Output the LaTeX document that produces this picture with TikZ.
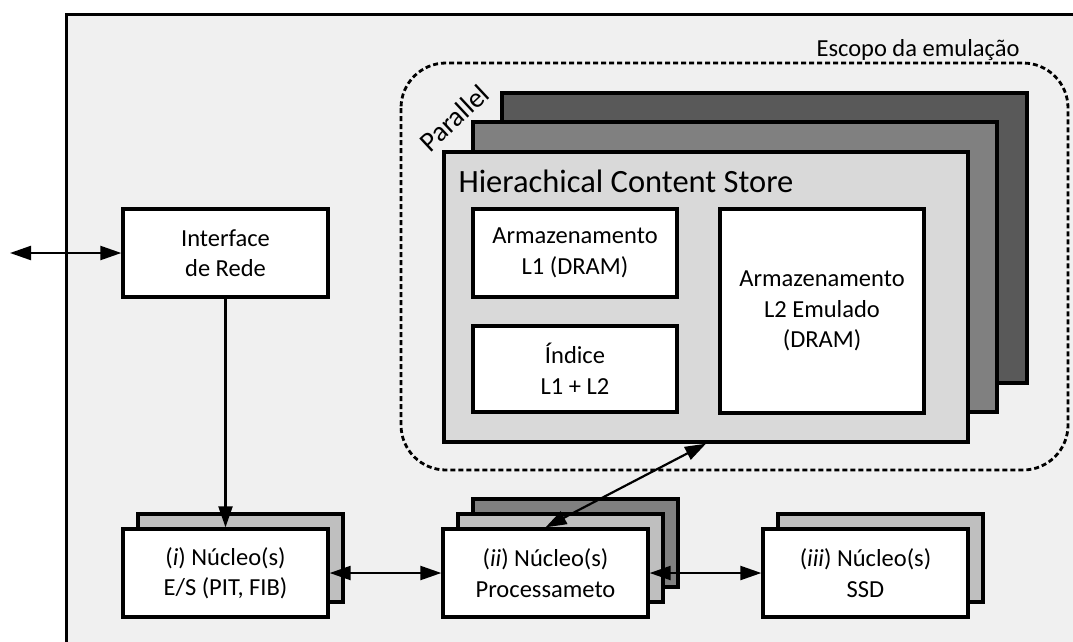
\documentclass[tikz,border=0pt]{standalone}
\usepackage{fontspec}
\setmainfont{Carlito}
\usetikzlibrary{arrows.meta,calc}
\definecolor{framebg}{HTML}{F0F0F0}
\definecolor{layerdark}{HTML}{595959}
\definecolor{layermid}{HTML}{808080}
\definecolor{layerlight}{HTML}{D9D9D9}
\definecolor{copygray}{HTML}{BFBFBF}
\tikzset{
  box/.style={draw=black, line width=3.3pt, fill=white, inner sep=0pt,
    minimum width=205pt, minimum height=88pt, align=center,
    font=\fontsize{24.5}{30.5}\selectfont},
  copybox/.style={box, fill=copygray},
  layer/.style={draw=black, line width=3.3pt, inner sep=0pt,
    minimum width=524pt, minimum height=290pt},
  conn/.style={line width=2.2pt, -{Triangle[length=21pt,width=14pt]}},
  biconn/.style={line width=2.2pt, {Triangle[length=21pt,width=14pt]}-{Triangle[length=21pt,width=14pt]}},
  scope/.style={draw=black, line width=2.8pt, dash pattern=on 5pt off 3pt, rounded corners=45pt},
}
\begin{document}
\begin{tikzpicture}[x=1pt,y=-1pt]
\useasboundingbox (0,0) rectangle (1073,641);
\clip (0,0) rectangle (1073,641);
\fill[white] (0,0) rectangle (1073,641);
% system frame
\draw[line width=3pt, fill=framebg] (66,14) rectangle (1100,680);

% emulation scope
\draw[scope] (401,63) rectangle (1068,470);
\node[anchor=east, font=\fontsize{24.5}{29}\selectfont] (escopo) at (1023,50) {Escopo da emulação};

% parallel content store layers
\node[layer, fill=layerdark, minimum width=525pt] (hcs3) at (764.5,238) {};
\node[layer, fill=layermid] (hcs2) at (735,267) {};
\node[layer, fill=layerlight] (hcs) at (706,297) {};
\node[rotate=43, font=\fontsize{28}{32}\selectfont] (par) at (454,118) {Parallel};
\node[anchor=west, font=\fontsize{32.5}{38}\selectfont] (hcstitle) at (455,181) {Hierachical Content Store};

\node[box, minimum width=204pt] (l1) at (575,253) {Armazenamento\\L1 (DRAM)};
\node[box, minimum width=204pt, minimum height=86pt] (idx) at (575,369) {Índice\\L1 + L2};
\node[box, minimum width=204pt, minimum height=204pt] (l2) at (822,311) {Armazenamento\\L2 Emulado\\(DRAM)};

% network interface
\node[box] (iface) at (225.5,253) {Interface\\de Rede};
\coordinate (ext) at (10,253);

% cores
\node[copybox] (es2) at (240.5,558) {};
\node[box] (es) at (225.5,573) {(\textit{i}) Núcleo(s)\\E/S (PIT, FIB)};

\node[copybox, fill=layermid] (proc3) at (575.5,543) {};
\node[copybox] (proc2) at (560.5,558) {};
\node[box] (proc) at (545.5,573) {(\textit{ii}) Núcleo(s)\\Processameto};

\node[copybox] (ssd2) at (880.5,558) {};
\node[box] (ssd) at (865.5,573) {(\textit{iii}) Núcleo(s)\\SSD};

% connectors
\draw[biconn] (ext) -- (iface.west);
\draw[conn] (iface.south) -- (es.north);
\draw[biconn] (es.east) -- (proc.west);
\draw[biconn] (proc.east) -- (ssd.west);
\draw[biconn] (proc.north) -- (hcs.south);
\end{tikzpicture}
\end{document}
